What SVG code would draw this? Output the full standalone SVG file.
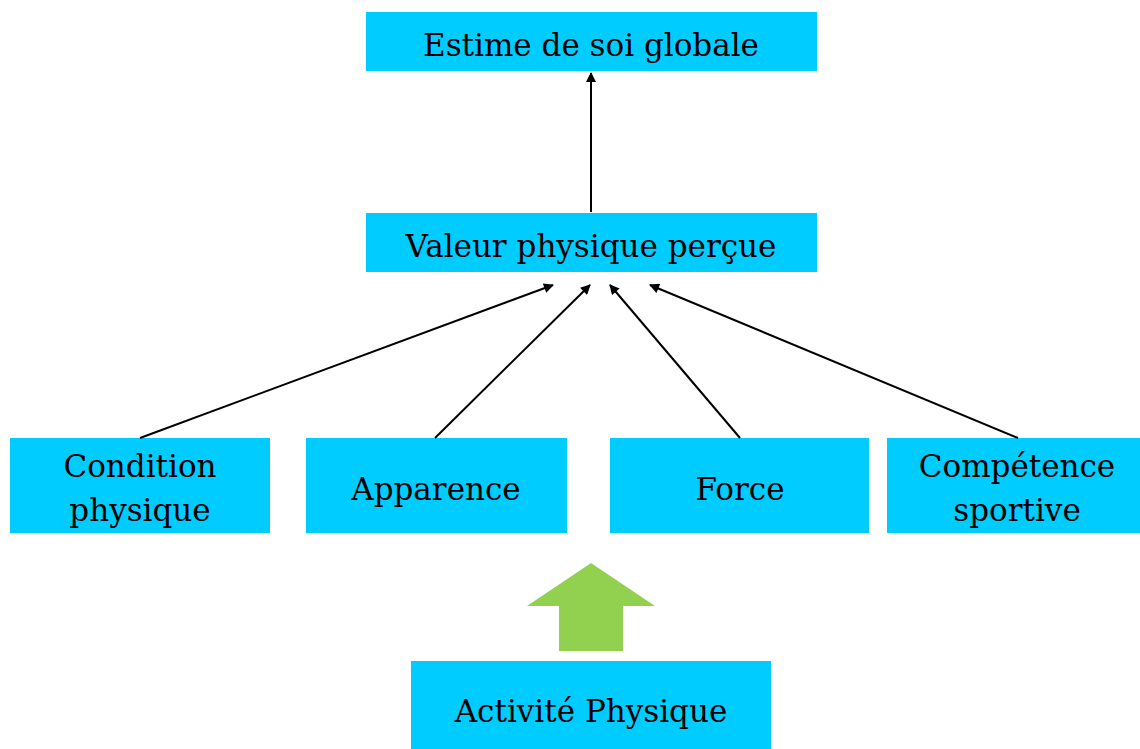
<svg xmlns="http://www.w3.org/2000/svg" width="1140" height="749" viewBox="0 0 1140 749">
<style>
.box{fill:#00CCFF;}
.t{font-family:"DejaVu Serif","Liberation Serif",serif;font-size:31px;fill:#000;text-anchor:middle;}
.c{stroke:#000;stroke-width:2;fill:none;marker-end:url(#ah);}
</style>
<defs>
<marker id="ah" viewBox="0 0 10 10" refX="9" refY="5" markerWidth="11" markerHeight="10" orient="auto" markerUnits="userSpaceOnUse">
<path d="M0,0 L10,5 L0,10 z" fill="#000"/>
</marker>
</defs>
<rect width="1140" height="749" fill="#fff"/>
<g id="estime"><rect class="box" x="366" y="12" width="451" height="59"/><text class="t" x="591" y="56">Estime de soi globale</text></g>
<g id="valeur"><rect class="box" x="366" y="213" width="451" height="59"/><text class="t" x="591" y="257">Valeur physique perçue</text></g>
<g id="condition"><rect class="box" x="10" y="438" width="260" height="95"/><text class="t" x="140" y="477">Condition</text><text class="t" x="140" y="521">physique</text></g>
<g id="apparence"><rect class="box" x="306" y="438" width="261" height="95"/><text class="t" x="436" y="500">Apparence</text></g>
<g id="force"><rect class="box" x="610" y="438" width="259" height="95"/><text class="t" x="740" y="500">Force</text></g>
<g id="competence"><rect class="box" x="887" y="438" width="253" height="95"/><text class="t" x="1017" y="477">Compétence</text><text class="t" x="1017" y="521">sportive</text></g>
<g id="activite"><rect class="box" x="411" y="661" width="360" height="88"/><text class="t" x="591" y="722">Activité Physique</text></g>
<g id="green-arrow"><polygon points="591,563 655,606 623,606 623,651 559,651 559,606 527,606" fill="#92D050"/></g>
<g id="connectors">
<line class="c" x1="591" y1="212" x2="591" y2="73"/>
<line class="c" x1="140" y1="438" x2="553" y2="285"/>
<line class="c" x1="435" y1="438" x2="590" y2="285"/>
<line class="c" x1="740" y1="438" x2="610" y2="285"/>
<line class="c" x1="1018" y1="438" x2="650" y2="285"/>
</g>
</svg>
